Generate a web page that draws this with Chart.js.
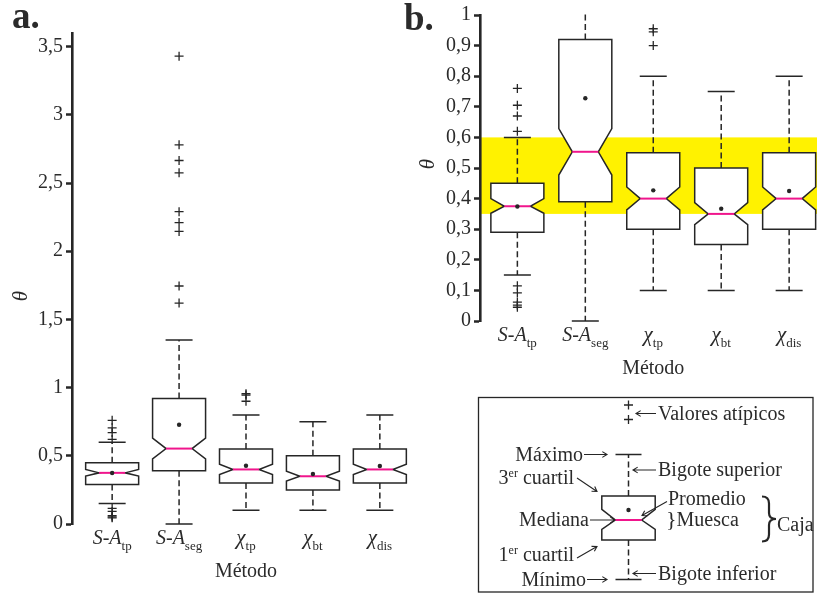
<!DOCTYPE html>
<html>
<head>
<meta charset="utf-8">
<script src="https://cdn.jsdelivr.net/npm/chart.js@4.4.0/dist/chart.umd.min.js"></script>
<style>
  body { margin: 0; background: #fff; width: 817px; height: 595px; overflow: hidden; position: relative; }
  canvas { position: absolute; top: 0; }
  #chartA { left: 0; }
  #chartB { left: 400px; }
</style>
</head>
<body>
<canvas id="chartA" width="424" height="595"></canvas>
<canvas id="chartB" width="417" height="595"></canvas>
<script>
// theta per method: five-number summaries, notches, means and outliers
const labelMain = ['S-A', 'S-A', 'χ', 'χ', 'χ'];
const labelSub = ['tp', 'seg', 'tp', 'bt', 'dis'];
const whiskerLow = [0.15, 0, 0.1, 0.1, 0.1];
const q1 = [0.29, 0.39, 0.30, 0.25, 0.30];
const medians = [0.375, 0.553, 0.40, 0.35, 0.40];
const q3 = [0.45, 0.92, 0.55, 0.50, 0.55];
const whiskerHigh = [0.60, 1.35, 0.80, 0.75, 0.80];
const notchLow = [0.352, 0.477, 0.363, 0.315, 0.363];
const notchHigh = [0.400, 0.629, 0.438, 0.387, 0.438];
const means = [0.374, 0.728, 0.427, 0.367, 0.425];
const outliers = [
  [0.045, 0.052, 0.062, 0.092, 0.115, 0.62, 0.67, 0.705, 0.76],
  [1.62, 1.745, 2.145, 2.21, 2.29, 2.575, 2.665, 2.78, 3.43],
  [0.90, 0.945, 0.955],
  [],
  []
];
const ticksA = [0, 0.5, 1, 1.5, 2, 2.5, 3, 3.5];
const ticksB = [0, 0.1, 0.2, 0.3, 0.4, 0.5, 0.6, 0.7, 0.8, 0.9, 1];
const bandRange = [0.35, 0.6];

const INK = '#262626';
const TEXT = '#2b2b2b';
const PINK = '#f0158c';
const BAND = '#fff200';
const SERIF = "'Liberation Serif', 'DejaVu Serif', serif";
const BOX_W = 53;
const CAP_W = 27;
const NOTCH_IN = 13.5;

function font(size, style) {
  return (style ? style + ' ' : '') + size + 'px ' + SERIF;
}

// draw a run of text pieces starting at x (or centred / right aligned on it)
function drawRun(ctx, parts, x, baseline, align) {
  let total = 0;
  parts.forEach(p => { ctx.font = p.font; p.w = ctx.measureText(p.text).width; total += p.w; });
  if (align === 'center') x -= total / 2;
  if (align === 'right') x -= total;
  parts.forEach(p => {
    ctx.font = p.font;
    ctx.fillText(p.text, x, baseline + (p.dy || 0));
    x += p.w;
  });
  return total;
}

function methodParts(i) {
  const sub = { text: labelSub[i], font: font(13), dy: 6 };
  if (labelMain[i] === 'S-A') {
    return [
      { text: 'S', font: font(20, 'italic') },
      { text: '-', font: font(20) },
      { text: 'A', font: font(20, 'italic') },
      sub
    ];
  }
  return [{ text: 'χ', font: font(21, 'italic') }, sub];
}

const notchedBoxes = {
  id: 'notchedBoxes',
  beforeDatasetsDraw(chart) {
    const { ctx, chartArea: a, scales: { x, y } } = chart;
    ctx.save();
    ctx.beginPath();
    ctx.rect(a.left, a.top - 1, a.right - a.left, a.bottom - a.top + 4);
    ctx.clip();
    labelMain.forEach((m, i) => {
      const cx = x.getPixelForValue(i + 1);
      const L = cx - BOX_W / 2, R = cx + BOX_W / 2;
      const yq1 = y.getPixelForValue(q1[i]);
      const yq3 = y.getPixelForValue(q3[i]);
      const ymed = y.getPixelForValue(medians[i]);
      const ynl = y.getPixelForValue(notchLow[i]);
      const ynh = y.getPixelForValue(notchHigh[i]);
      const ywl = y.getPixelForValue(whiskerLow[i]);
      const ywh = y.getPixelForValue(whiskerHigh[i]);

      ctx.strokeStyle = INK;
      ctx.lineWidth = 1.5;
      ctx.setLineDash([6, 3.5]);
      ctx.beginPath();
      ctx.moveTo(cx, yq3); ctx.lineTo(cx, ywh);
      ctx.moveTo(cx, yq1); ctx.lineTo(cx, ywl);
      ctx.stroke();
      ctx.setLineDash([]);
      ctx.beginPath();
      ctx.moveTo(cx - CAP_W / 2, ywh); ctx.lineTo(cx + CAP_W / 2, ywh);
      ctx.moveTo(cx - CAP_W / 2, ywl); ctx.lineTo(cx + CAP_W / 2, ywl);
      ctx.stroke();

      ctx.beginPath();
      ctx.moveTo(L, yq3); ctx.lineTo(R, yq3); ctx.lineTo(R, ynh);
      ctx.lineTo(R - NOTCH_IN, ymed); ctx.lineTo(R, ynl); ctx.lineTo(R, yq1);
      ctx.lineTo(L, yq1); ctx.lineTo(L, ynl); ctx.lineTo(L + NOTCH_IN, ymed);
      ctx.lineTo(L, ynh);
      ctx.closePath();
      ctx.fillStyle = '#fff';
      ctx.fill();
      ctx.stroke();

      ctx.strokeStyle = PINK;
      ctx.lineWidth = 2;
      ctx.beginPath();
      ctx.moveTo(L + NOTCH_IN, ymed); ctx.lineTo(R - NOTCH_IN, ymed);
      ctx.stroke();
    });
    ctx.restore();
  }
};

const yellowBand = {
  id: 'yellowBand',
  beforeDraw(chart) {
    const { ctx, chartArea: a, scales: { y } } = chart;
    const top = y.getPixelForValue(bandRange[1]);
    const bot = y.getPixelForValue(bandRange[0]);
    ctx.save();
    ctx.fillStyle = BAND;
    ctx.fillRect(a.left, top, a.right - a.left, bot - top);
    ctx.restore();
  }
};

// category names, axis titles and the panel letter
function axisText(letter, letterX, letterY, thetaX, thetaY) {
  return {
    id: 'axisText',
    afterDraw(chart) {
      const { ctx, chartArea: a, scales: { x } } = chart;
      ctx.save();
      ctx.fillStyle = TEXT;
      ctx.textBaseline = 'alphabetic';
      labelMain.forEach((m, i) => {
        drawRun(ctx, methodParts(i), x.getPixelForValue(i + 1), a.bottom + 20, 'center');
      });
      ctx.font = font(20);
      ctx.textAlign = 'center';
      ctx.fillText('Método', x.getPixelForValue(3), a.bottom + 53);
      ctx.save();
      ctx.translate(thetaX, thetaY);
      ctx.rotate(-Math.PI / 2);
      ctx.font = font(21, 'italic');
      ctx.fillText('θ', 0, 6);
      ctx.restore();
      ctx.textAlign = 'left';
      ctx.font = font(37, 'bold');
      ctx.fillText(letter, letterX, letterY);
      ctx.restore();
    }
  };
}

function arrow(ctx, x1, y1, x2, y2) {
  ctx.beginPath();
  ctx.moveTo(x1, y1); ctx.lineTo(x2, y2);
  const ang = Math.atan2(y2 - y1, x2 - x1), h = 5.5;
  ctx.moveTo(x2 - h * Math.cos(ang - 0.55), y2 - h * Math.sin(ang - 0.55));
  ctx.lineTo(x2, y2);
  ctx.lineTo(x2 - h * Math.cos(ang + 0.55), y2 - h * Math.sin(ang + 0.55));
  ctx.stroke();
}

// key explaining the parts of a notched box (page coordinates)
const boxKey = {
  id: 'boxKey',
  afterDraw(chart) {
    const ctx = chart.ctx;
    ctx.save();
    ctx.translate(-400, 0);
    ctx.strokeStyle = INK;
    ctx.fillStyle = TEXT;
    ctx.lineWidth = 1.3;
    ctx.strokeRect(478.5, 397.5, 334.5, 194.5);

    const cx = 628.5;
    [405, 419.5].forEach(yy => {
      ctx.beginPath();
      ctx.moveTo(cx - 4.5, yy); ctx.lineTo(cx + 4.5, yy);
      ctx.moveTo(cx, yy - 4.5); ctx.lineTo(cx, yy + 4.5);
      ctx.stroke();
    });

    ctx.lineWidth = 1.5;
    ctx.setLineDash([6, 3.5]);
    ctx.beginPath();
    ctx.moveTo(cx, 496); ctx.lineTo(cx, 454.5);
    ctx.moveTo(cx, 540); ctx.lineTo(cx, 579.5);
    ctx.stroke();
    ctx.setLineDash([]);
    ctx.beginPath();
    ctx.moveTo(cx - 13, 454.5); ctx.lineTo(cx + 13, 454.5);
    ctx.moveTo(cx - 13, 579.5); ctx.lineTo(cx + 13, 579.5);
    ctx.stroke();

    const L = cx - 26.7, R = cx + 26.7;
    ctx.beginPath();
    ctx.moveTo(L, 496); ctx.lineTo(R, 496); ctx.lineTo(R, 509.3);
    ctx.lineTo(R - 13.5, 520); ctx.lineTo(R, 529.3); ctx.lineTo(R, 540);
    ctx.lineTo(L, 540); ctx.lineTo(L, 529.3); ctx.lineTo(L + 13.5, 520);
    ctx.lineTo(L, 509.3); ctx.closePath();
    ctx.fillStyle = '#fff';
    ctx.fill();
    ctx.stroke();
    ctx.strokeStyle = PINK;
    ctx.lineWidth = 2;
    ctx.beginPath();
    ctx.moveTo(L + 13.5, 520); ctx.lineTo(R - 13.5, 520);
    ctx.stroke();
    ctx.fillStyle = INK;
    ctx.beginPath();
    ctx.arc(cx, 510, 2.2, 0, Math.PI * 2);
    ctx.fill();

    ctx.strokeStyle = INK;
    ctx.fillStyle = TEXT;
    ctx.lineWidth = 1.1;
    const t = font(20);
    ctx.textBaseline = 'alphabetic';

    arrow(ctx, 656, 413.5, 636, 413.5);
    drawRun(ctx, [{ text: 'Valores atípicos', font: t }], 658, 419.5);

    drawRun(ctx, [{ text: 'Máximo', font: t }], 583, 460.5, 'right');
    arrow(ctx, 584, 454.5, 607, 454.5);

    arrow(ctx, 656, 470, 633, 470);
    drawRun(ctx, [{ text: 'Bigote superior', font: t }], 658, 476);

    drawRun(ctx, [
      { text: '3', font: t },
      { text: 'er', font: font(12), dy: -7 },
      { text: ' cuartil', font: t }
    ], 574, 484, 'right');
    arrow(ctx, 577, 478, 597, 491.5);

    arrow(ctx, 667, 501.5, 642, 515.5);
    drawRun(ctx, [{ text: 'Promedio', font: t }], 668, 505);

    drawRun(ctx, [{ text: '}', font: font(22) }, { text: 'Muesca', font: t }], 666, 526);

    // large brace grouping the box
    ctx.lineWidth = 2.2;
    const bx = 762, bt = 496.5, bb = 541.5, bm = 519, bw = 14;
    ctx.beginPath();
    ctx.moveTo(bx, bt);
    ctx.quadraticCurveTo(bx + bw / 2, bt, bx + bw / 2, bt + 7);
    ctx.lineTo(bx + bw / 2, bm - 6);
    ctx.quadraticCurveTo(bx + bw / 2, bm, bx + bw, bm);
    ctx.quadraticCurveTo(bx + bw / 2, bm, bx + bw / 2, bm + 6);
    ctx.lineTo(bx + bw / 2, bb - 7);
    ctx.quadraticCurveTo(bx + bw / 2, bb, bx, bb);
    ctx.stroke();
    ctx.lineWidth = 1.1;
    drawRun(ctx, [{ text: 'Caja', font: t }], 777, 531);

    drawRun(ctx, [{ text: 'Mediana', font: t }], 589, 526, 'right');
    arrow(ctx, 590, 520, 615, 520);

    drawRun(ctx, [
      { text: '1', font: t },
      { text: 'er', font: font(12), dy: -7 },
      { text: ' cuartil', font: t }
    ], 574, 561, 'right');
    arrow(ctx, 577, 558, 597, 546.5);

    arrow(ctx, 656, 573.5, 633, 573.5);
    drawRun(ctx, [{ text: 'Bigote inferior', font: t }], 658, 579.5);

    drawRun(ctx, [{ text: 'Mínimo', font: t }], 586, 585.5, 'right');
    arrow(ctx, 587, 579.5, 607, 579.5);

    ctx.restore();
  }
};

function makePanel(id, opt) {
  const pts = (vals, i) => vals.map(v => ({ x: i + 1, y: v }));
  return new Chart(document.getElementById(id), {
    type: 'scatter',
    data: {
      datasets: [
        {
          label: 'Promedio',
          data: means.flatMap((m, i) => pts([m], i)),
          pointStyle: 'circle',
          pointRadius: 2.2,
          backgroundColor: INK,
          borderWidth: 0
        },
        {
          label: 'Valores atípicos',
          data: outliers.flatMap((list, i) => pts(list, i)).filter(p => p.y <= opt.yMax),
          pointStyle: 'cross',
          pointRadius: 4.5,
          borderColor: INK,
          borderWidth: 1.3
        }
      ]
    },
    options: {
      responsive: false,
      animation: false,
      events: [],
      layout: { padding: opt.padding, autoPadding: false },
      plugins: { legend: { display: false }, tooltip: { enabled: false } },
      scales: {
        x: {
          type: 'linear',
          min: opt.xMin,
          max: opt.xMax,
          afterFit: s => { s.height = opt.xHeight; },
          grid: { display: false },
          border: { display: false },
          ticks: { display: false }
        },
        y: {
          min: 0,
          max: opt.yMax,
          afterFit: s => { s.width = opt.yWidth; },
          afterBuildTicks: s => { s.ticks = opt.ticks.map(v => ({ value: v })); },
          grid: {
            drawOnChartArea: false,
            drawTicks: true,
            tickLength: 6,
            tickWidth: 2.5,
            tickColor: INK
          },
          border: { display: true, color: INK, width: 2.6 },
          ticks: {
            padding: 3,
            color: TEXT,
            font: { family: SERIF, size: 20 },
            callback: v => String(+v.toFixed(2)).replace('.', ',')
          }
        }
      }
    },
    plugins: opt.plugins
  });
}

makePanel('chartA', {
  yMax: 3.6, ticks: ticksA, xMin: 0.4, xMax: 5.6,
  yWidth: 72, xHeight: 71,
  padding: { top: 33, right: 4, bottom: 0, left: 0 },
  plugins: [notchedBoxes, axisText('a.', 12, 28, 21, 296)]
});

makePanel('chartB', {
  yMax: 1, ticks: ticksB, xMin: 0.45, xMax: 5.41,
  yWidth: 80, xHeight: 74,
  padding: { top: 10.5, right: 0, bottom: 200, left: 0 },
  plugins: [yellowBand, notchedBoxes, axisText('b.', 4, 30, 28, 164), boxKey]
});
</script>
</body>
</html>
